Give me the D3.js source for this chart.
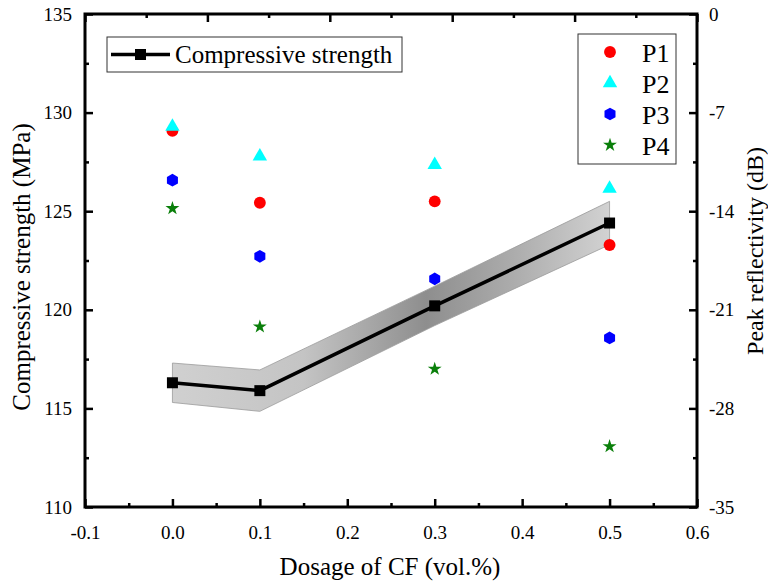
<!DOCTYPE html>
<html>
<head>
<meta charset="utf-8">
<script src="https://cdn.jsdelivr.net/npm/d3@7"></script>
<style>
  body { margin: 0; background: #fff; }
</style>
</head>
<body>
<svg id="chart" width="768" height="586" font-family="Liberation Serif, serif"></svg>
<script>
// data
var dosage = [0.0, 0.1, 0.3, 0.5];
var strength = [116.3, 115.9, 120.2, 124.4];
var strengthErr = [1.0, 1.05, 1.0, 1.1];
var p1 = [-8.3, -13.4, -13.3, -16.4];
var p2 = [-8.0, -10.1, -10.7, -12.4];
var p3 = [-11.8, -17.2, -18.8, -23.0];
var p4 = [-13.8, -22.2, -25.2, -30.7];
var xTicks = [-0.1, 0.0, 0.1, 0.2, 0.3, 0.4, 0.5, 0.6];
var yTicks = [110, 115, 120, 125, 130, 135];
var y2Ticks = [0, -7, -14, -21, -28, -35];

var FONT = 'Liberation Serif, serif';

var margin = { top: 14, right: 71, bottom: 79, left: 85 },
    width = 768 - margin.left - margin.right,
    height = 586 - margin.top - margin.bottom;

var svg = d3.select('#chart');
var g = svg.append('g').attr('transform', 'translate(' + margin.left + ',' + margin.top + ')');

var x = d3.scaleLinear().domain([-0.1, 0.6]).range([0, width]);
var y = d3.scaleLinear().domain([110, 135]).range([height, 0]);
var y2 = d3.scaleLinear().domain([-35, 0]).range([height, 0]);
var xTop = d3.scaleLinear().domain([0, 5]).range([0, width]);

// plain hyphen instead of unicode minus
var fmt1 = function(d) { return d3.format('.1f')(d).replace('\u2212', '-'); };
var fmt0 = function(d) { return d3.format('d')(d).replace('\u2212', '-'); };

// hexagon symbol (pointy top)
var symbolHex = {
    draw: function(context, size) {
        var r = Math.sqrt(size / (1.5 * Math.sqrt(3)));
        for (var i = 0; i < 6; i++) {
            var a = Math.PI / 2 + i * Math.PI / 3;
            if (i === 0) context.moveTo(r * Math.cos(a), -r * Math.sin(a));
            else context.lineTo(r * Math.cos(a), -r * Math.sin(a));
        }
        context.closePath();
    }
};

var series = [
    { name: 'P1', values: p1, color: '#ff0000', symbol: d3.symbolCircle, size: 110 },
    { name: 'P2', values: p2, color: '#00ffff', symbol: d3.symbolTriangle, size: 90 },
    { name: 'P3', values: p3, color: '#0000ff', symbol: symbolHex, size: 105 },
    { name: 'P4', values: p4, color: '#0a7f0a', symbol: d3.symbolStar, size: 60 }
];

// gradient for the band
var defs = svg.append('defs');
var grad = defs.append('linearGradient')
    .attr('id', 'band-grad')
    .attr('gradientUnits', 'userSpaceOnUse')
    .attr('x1', x(0)).attr('x2', x(0.5)).attr('y1', 0).attr('y2', 0);
grad.append('stop').attr('offset', '0%').attr('stop-color', '#d0d0d0');
grad.append('stop').attr('offset', '30%').attr('stop-color', '#c4c4c4');
grad.append('stop').attr('offset', '58%').attr('stop-color', '#8e8e8e');
grad.append('stop').attr('offset', '78%').attr('stop-color', '#acacac');
grad.append('stop').attr('offset', '100%').attr('stop-color', '#d2d2d2');

var band = d3.area()
    .x(function(d, i) { return x(dosage[i]); })
    .y0(function(d, i) { return y(d - strengthErr[i]); })
    .y1(function(d, i) { return y(d + strengthErr[i]); });

g.append('path')
    .datum(strength)
    .attr('d', band)
    .attr('fill', 'url(#band-grad)')
    .attr('stroke', '#9a9a9a')
    .attr('stroke-width', 0.8);

var line = d3.line()
    .x(function(d, i) { return x(dosage[i]); })
    .y(function(d) { return y(d); });

g.append('path')
    .datum(strength)
    .attr('d', line)
    .attr('fill', 'none')
    .attr('stroke', '#000')
    .attr('stroke-width', 3.5);

g.append('g').selectAll('rect')
    .data(strength)
    .enter()
    .append('rect')
    .attr('x', function(d, i) { return x(dosage[i]) - 5.5; })
    .attr('y', function(d) { return y(d) - 5.5; })
    .attr('width', 11)
    .attr('height', 11)
    .attr('fill', '#000');

// scatter series on the right axis
series.forEach(function(s) {
    g.append('g').selectAll('path')
        .data(s.values)
        .enter()
        .append('path')
        .attr('transform', function(d, i) { return 'translate(' + x(dosage[i]) + ',' + y2(d) + ')'; })
        .attr('d', d3.symbol().type(s.symbol).size(s.size))
        .attr('fill', s.color);
});

// axes: ticks pointing inward
function styleAxis(sel) {
    sel.attr('font-family', FONT).attr('font-size', 19);
    sel.select('.domain').remove();
    sel.selectAll('.tick line').attr('stroke', '#000').attr('stroke-width', 2.5);
    sel.selectAll('.tick text').attr('fill', '#000');
}

function minorOf(ticks) {
    var out = [];
    for (var i = 0; i < ticks.length - 1; i++) out.push((ticks[i] + ticks[i + 1]) / 2);
    return out;
}

// bottom
g.append('g').attr('transform', 'translate(0,' + height + ')')
    .call(d3.axisBottom(x).tickValues(xTicks).tickSize(-8).tickPadding(19).tickFormat(fmt1))
    .call(styleAxis);
g.append('g').attr('transform', 'translate(0,' + height + ')')
    .call(d3.axisBottom(x).tickValues(minorOf(xTicks)).tickSize(-4).tickFormat(''))
    .call(styleAxis);

// top
g.append('g')
    .call(d3.axisTop(xTop).ticks(5).tickSize(-8).tickFormat(''))
    .call(styleAxis);
g.append('g')
    .call(d3.axisTop(xTop).tickValues([0.5, 1.5, 2.5, 3.5, 4.5]).tickSize(-4).tickFormat(''))
    .call(styleAxis);

// left
g.append('g')
    .call(d3.axisLeft(y).tickValues(yTicks).tickSize(-8).tickPadding(13).tickFormat(fmt0))
    .call(styleAxis);
g.append('g')
    .call(d3.axisLeft(y).tickValues(minorOf(yTicks)).tickSize(-4).tickFormat(''))
    .call(styleAxis);

// right
g.append('g').attr('transform', 'translate(' + width + ',0)')
    .call(d3.axisRight(y2).tickValues(y2Ticks).tickSize(-8).tickPadding(12).tickFormat(fmt0))
    .call(styleAxis);
g.append('g').attr('transform', 'translate(' + width + ',0)')
    .call(d3.axisRight(y2).tickValues(minorOf(y2Ticks.slice().reverse())).tickSize(-4).tickFormat(''))
    .call(styleAxis);

// frame
g.append('rect')
    .attr('width', width)
    .attr('height', height)
    .attr('fill', 'none')
    .attr('stroke', '#000')
    .attr('stroke-width', 3);

// titles
svg.append('text')
    .attr('x', margin.left + width / 2 - 1)
    .attr('y', 575)
    .attr('text-anchor', 'middle')
    .attr('font-family', FONT)
    .attr('font-size', 25)
    .text('Dosage of CF (vol.%)');

svg.append('text')
    .attr('transform', 'translate(30,267) rotate(-90)')
    .attr('text-anchor', 'middle')
    .attr('font-family', FONT)
    .attr('font-size', 25)
    .text('Compressive strength (MPa)');

svg.append('text')
    .attr('transform', 'translate(763,251) rotate(-90)')
    .attr('text-anchor', 'middle')
    .attr('font-family', FONT)
    .attr('font-size', 24)
    .text('Peak reflectivity (dB)');

// legend: compressive strength
var leg1 = svg.append('g').attr('transform', 'translate(107,37)');
leg1.append('rect')
    .attr('width', 295).attr('height', 35)
    .attr('fill', '#fff').attr('stroke', '#333').attr('stroke-width', 1);
leg1.append('line')
    .attr('x1', 4).attr('x2', 63).attr('y1', 17.5).attr('y2', 17.5)
    .attr('stroke', '#000').attr('stroke-width', 3.5);
leg1.append('rect')
    .attr('x', 28).attr('y', 12).attr('width', 11).attr('height', 11).attr('fill', '#000');
leg1.append('text')
    .attr('x', 68).attr('y', 26)
    .attr('font-family', FONT)
    .attr('font-size', 25)
    .text('Compressive strength');

// legend: P series
var leg2 = svg.append('g').attr('transform', 'translate(578,34)');
leg2.append('rect')
    .attr('width', 98).attr('height', 130)
    .attr('fill', '#fff').attr('stroke', '#333').attr('stroke-width', 1);
series.forEach(function(s, i) {
    var cy = 18 + i * 31;
    leg2.append('path')
        .attr('transform', 'translate(32,' + cy + ')')
        .attr('d', d3.symbol().type(s.symbol).size(s.size))
        .attr('fill', s.color);
    leg2.append('text')
        .attr('x', 64).attr('y', cy + 10)
        .attr('font-family', FONT)
        .attr('font-size', 26)
        .text(s.name);
});
</script>
</body>
</html>
